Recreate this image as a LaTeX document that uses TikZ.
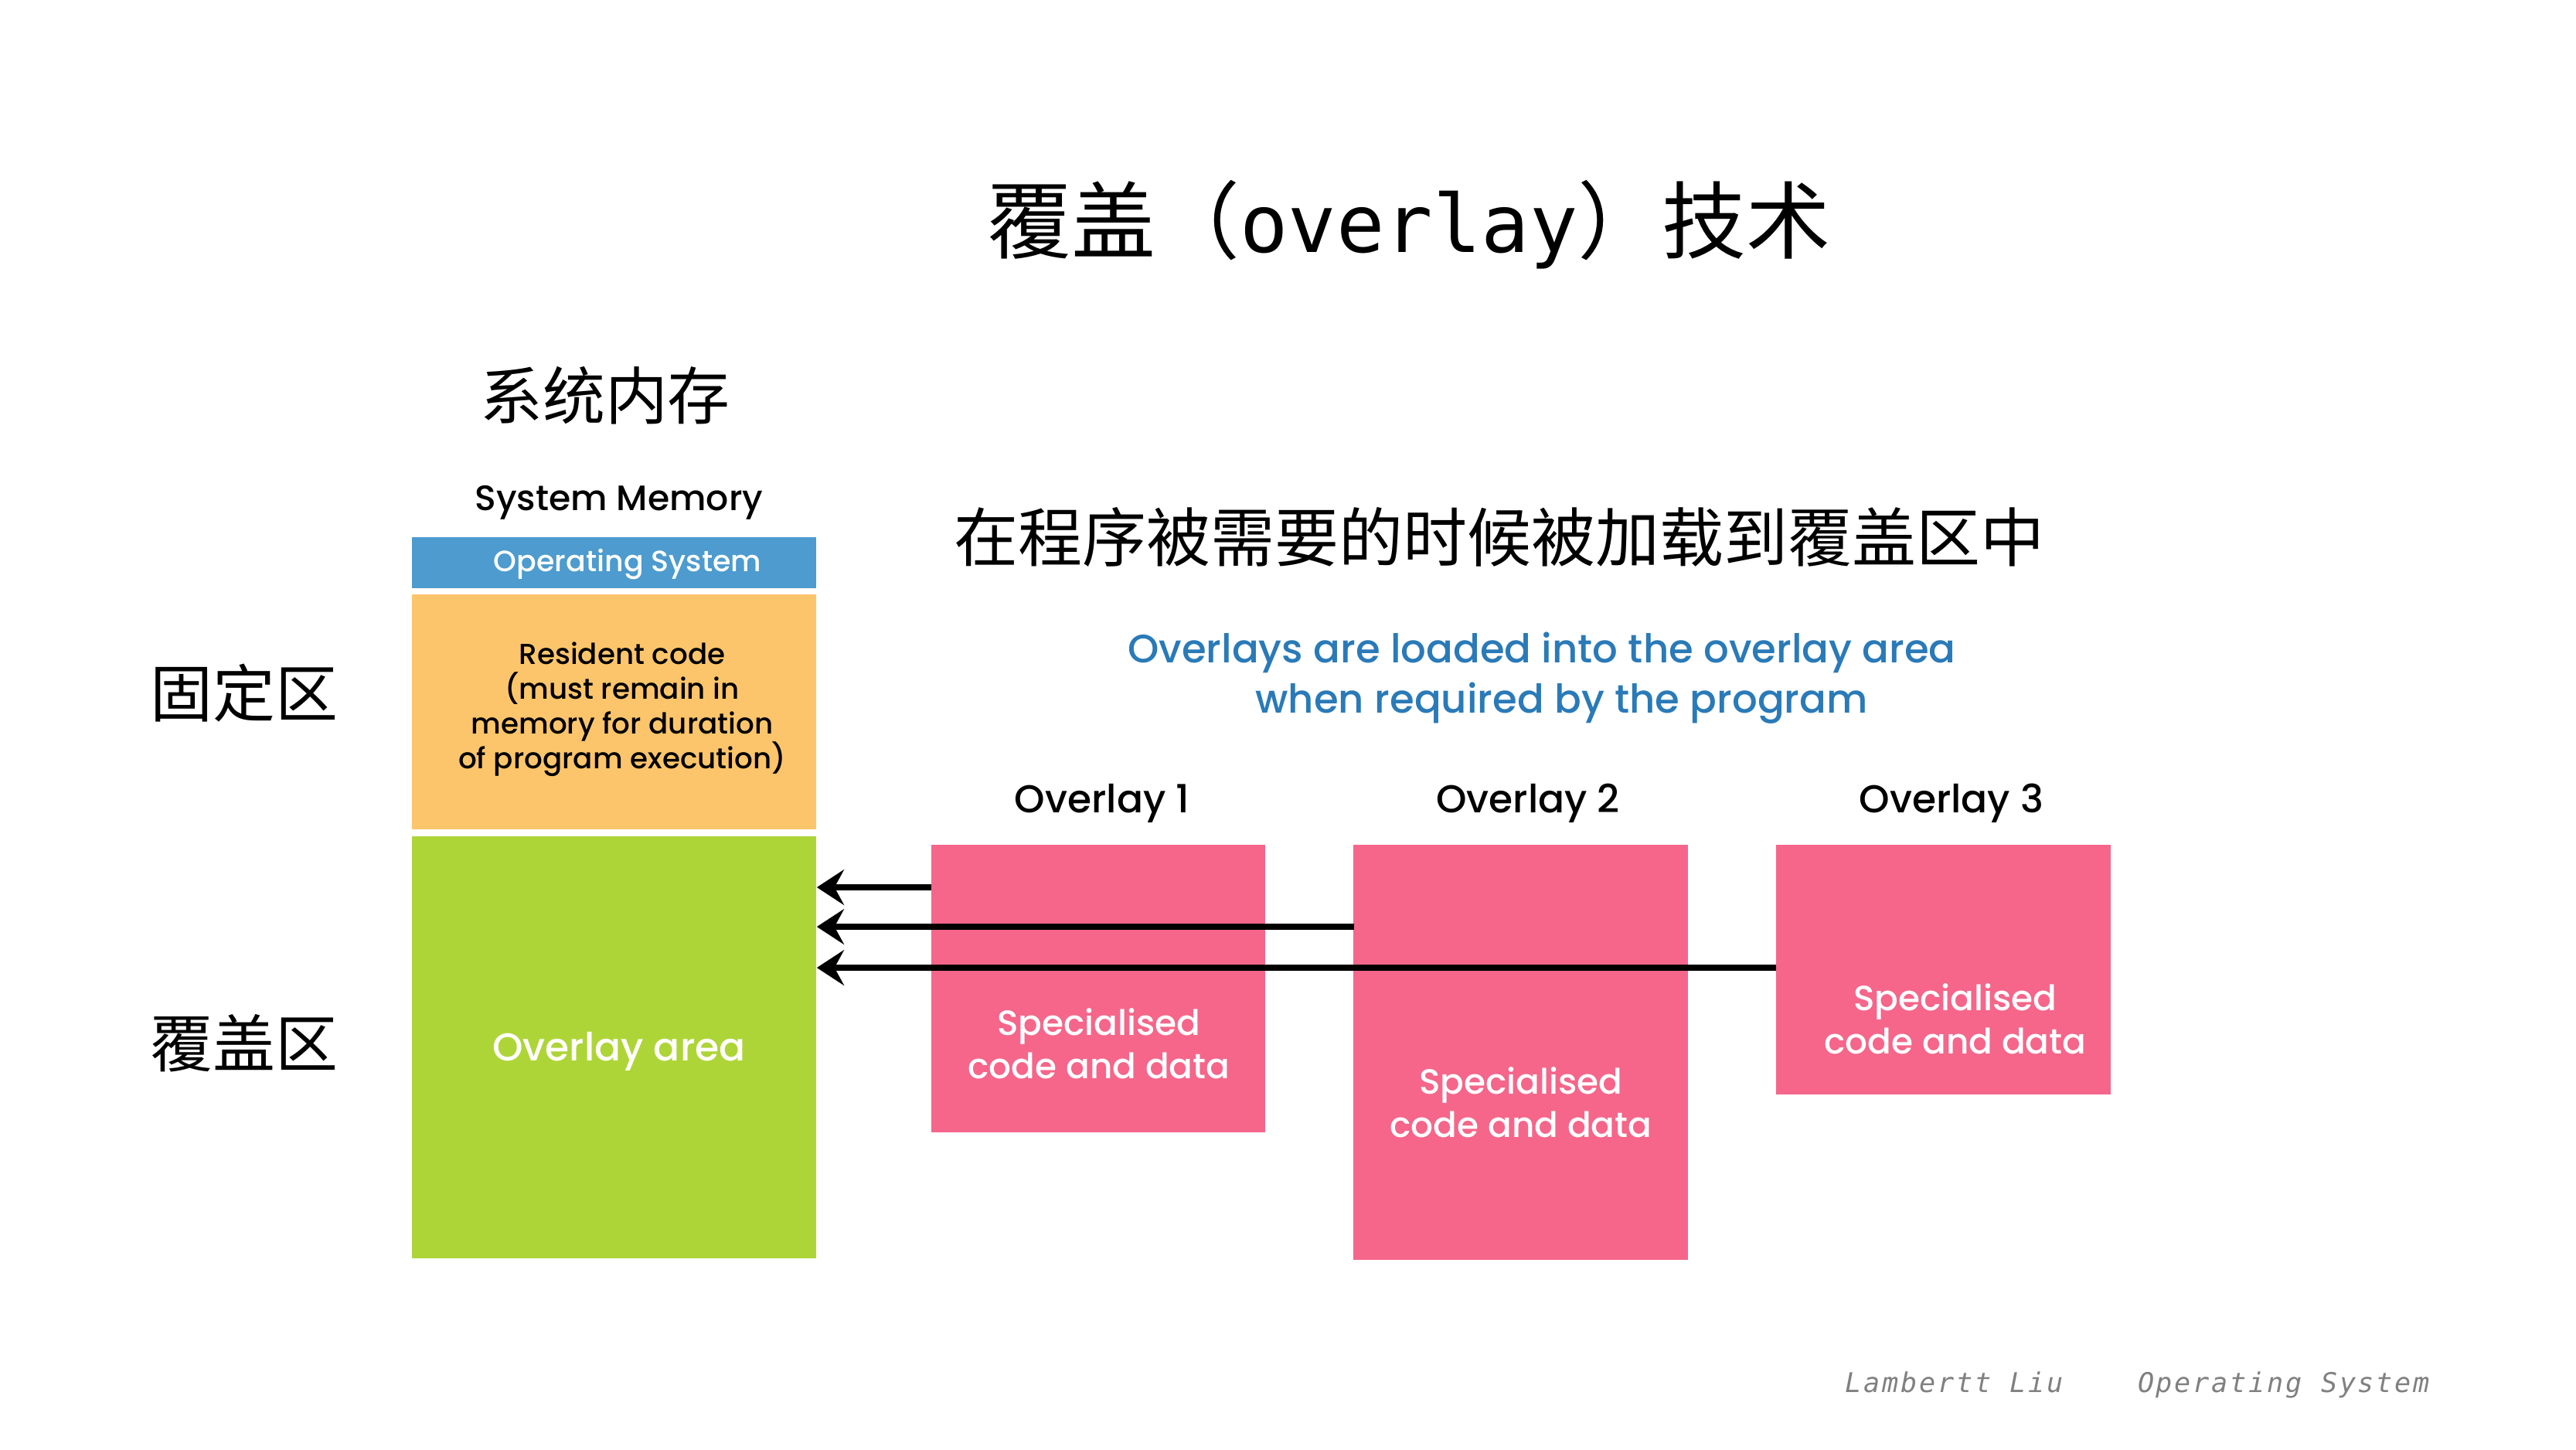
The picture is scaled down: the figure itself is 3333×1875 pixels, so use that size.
\documentclass[tikz,border=0pt]{standalone}
\usepackage{fontspec}
\setmainfont{Poppins}
\newfontfamily\medfont{Poppins Medium}
\newfontfamily\cjk{Noto Sans CJK SC}
\newfontfamily\monofont{DejaVu Sans Mono}
\newfontfamily\footfont[LetterSpace=8]{DejaVu Sans Mono}
\usetikzlibrary{arrows.meta}
\definecolor{osblue}{HTML}{4D9BCF}
\definecolor{resorange}{HTML}{FDC56B}
\definecolor{ovgreen}{HTML}{AED538}
\definecolor{ovpink}{HTML}{F5668A}
\definecolor{captionblue}{HTML}{2A7AB8}
\definecolor{footgray}{HTML}{808080}
\tikzset{
  block/.style={rectangle, inner sep=0pt, draw=none, align=center},
  memcol/.style={block, minimum width=5.23cm},
  pinkbox/.style={block, fill=ovpink, minimum width=4.32cm},
  boxtext/.style={align=center, text=white, font=\medfont\fontsize{12.9pt}{16pt}\selectfont},
  cjklabel/.style={font=\cjk\fontsize{23pt}{26pt}\selectfont},
  ovlabel/.style={font=\medfont\fontsize{14.3pt}{16pt}\selectfont},
  loadarrow/.style={line width=2.2pt, -{Stealth[length=10pt, width=13pt, inset=3.5pt]}}
}
\begin{document}
\begin{tikzpicture}[x=0.01cm, y=-0.01cm]
  \fill[white] (0,0) rectangle (3333,1875);
  \useasboundingbox (0,0) rectangle (3333,1875);

  % headings
  \node (title) at (1823,291) {\fontsize{31pt}{34pt}\selectfont\cjk 覆盖（{\monofont\fontsize{29.5pt}{34pt}\selectfont overlay}）技术};
  \node[cjklabel] (sysmem) at (783,512) {系统内存};
  \node[font=\medfont\fontsize{13pt}{16pt}\selectfont] (sysmemen) at (801,650) {System Memory};
  \node[font=\cjk\fontsize{23.6pt}{27pt}\selectfont] (loadcn) at (1940,695) {在程序被需要的时候被加载到覆盖区中};
  \node[text=captionblue, align=center, font=\medfont\fontsize{14.6pt}{18.5pt}\selectfont] (loaden) at (1995,877)
    {Overlays are loaded into the overlay area\\\hspace*{1em}when required by the program};

  % system memory column
  \node[memcol, fill=osblue, minimum height=0.66cm] (os) at (794.5,728) {};
  \node[text=white, font=\medfont\fontsize{10.8pt}{13pt}\selectfont] (ostext) at (812,730) {Operating System};
  \node[memcol, fill=resorange, minimum height=3.04cm] (resident) at (794.5,921) {};
  \node[align=center, font=\medfont\fontsize{10.6pt}{12.8pt}\selectfont] (restext) at (805,918)
    {Resident code\\(must remain in\\memory for duration\\of program execution)};
  \node[memcol, fill=ovgreen, minimum height=5.46cm] (green) at (794.5,1355) {};
  \node[boxtext, font=\medfont\fontsize{14.3pt}{17pt}\selectfont] (greentext) at (801,1360) {Overlay area};

  % side labels
  \node[cjklabel] (fixed) at (316,897) {固定区};
  \node[cjklabel] (ovzone) at (316,1350) {覆盖区};

  % overlays
  \node[ovlabel] (ov1) at (1426,1039) {Overlay 1};
  \node[ovlabel] (ov2) at (1977,1039) {Overlay 2};
  \node[ovlabel] (ov3) at (2525,1039) {Overlay 3};
  \node[pinkbox, minimum height=3.72cm] (p1) at (1421,1279) {};
  \node[pinkbox, minimum height=5.37cm] (p2) at (1967.5,1361.5) {};
  \node[pinkbox, minimum height=3.23cm] (p3) at (2514.5,1254.5) {};
  \node[boxtext] (t1) at (1422,1350) {Specialised\\code and data};
  \node[boxtext] (t2) at (1968,1426) {Specialised\\code and data};
  \node[boxtext] (t3) at (2530,1318) {Specialised\\code and data};

  % loading arrows
  \coordinate (s1) at (1205,1148);
  \coordinate (s2) at (1752,1199);
  \coordinate (s3) at (2298,1252);
  \draw[loadarrow] (s1) -- (green.east |- s1);
  \draw[loadarrow] (s2) -- (green.east |- s2);
  \draw[loadarrow] (s3) -- (green.east |- s3);

  % footer
  \node[text=footgray, font=\footfont\itshape\fontsize{10pt}{12pt}\selectfont] (footer) at (2766,1792)
    {Lambertt Liu\ \ \ \ Operating System};
\end{tikzpicture}
\end{document}
